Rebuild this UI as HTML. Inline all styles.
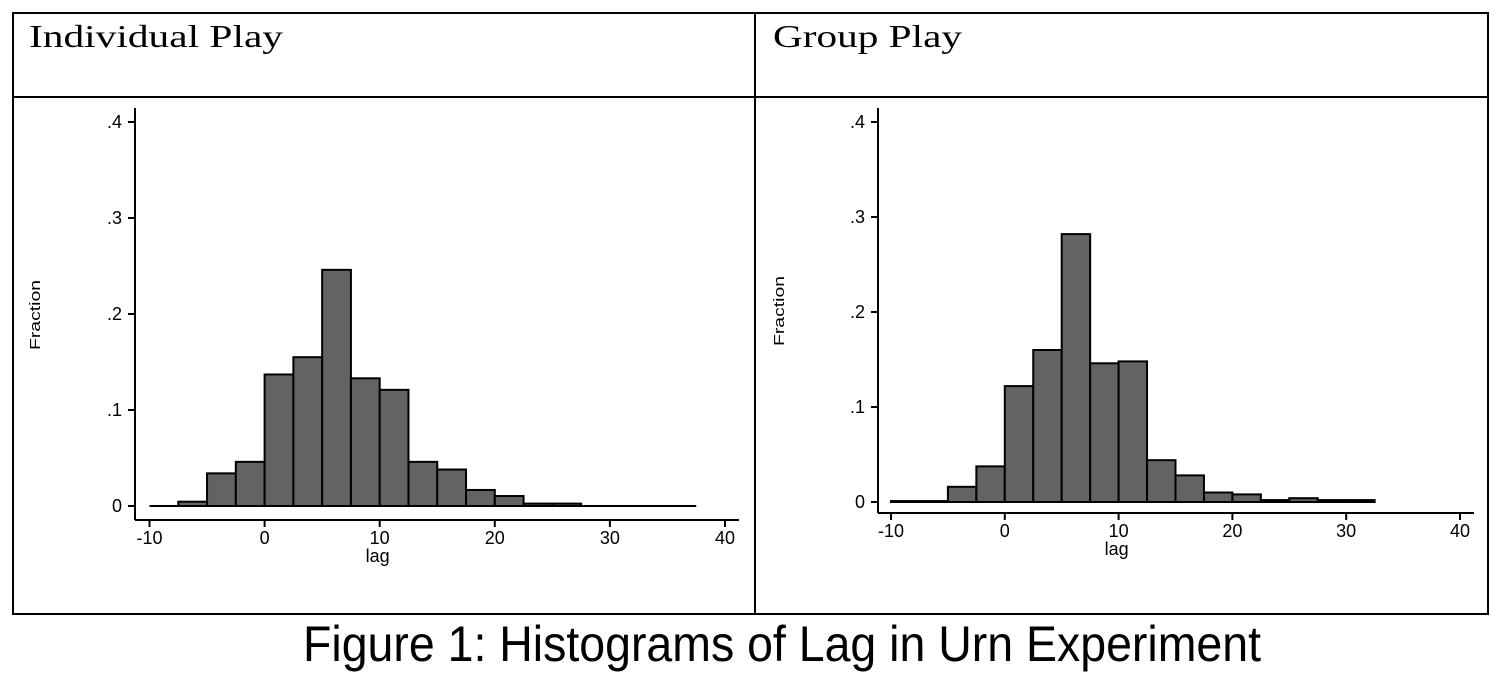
<!DOCTYPE html>
<html><head><meta charset="utf-8"><style>
html,body{margin:0;padding:0;background:#fff;width:1502px;height:677px;overflow:hidden}
svg{display:block}
</style></head><body>
<svg id="fig" width="1502" height="677">
<g stroke="#000" fill="none" stroke-width="2">
<rect x="13" y="13" width="1475" height="601"/>
<line x1="13" y1="97" x2="1488" y2="97"/>
<line x1="755" y1="13" x2="755" y2="614"/>
</g>
<text x="29" y="47" font-family="Liberation Serif,serif" font-size="32" textLength="254" lengthAdjust="spacingAndGlyphs">Individual Play</text>
<text x="773" y="47" font-family="Liberation Serif,serif" font-size="32" textLength="189" lengthAdjust="spacingAndGlyphs">Group Play</text>
<text x="782" y="661" text-anchor="middle" font-family="Liberation Sans,sans-serif" font-size="50" textLength="958" lengthAdjust="spacingAndGlyphs">Figure 1: Histograms of Lag in Urn Experiment</text>
</svg>
<script>
const binStarts = [-10,-7.5,-5,-2.5,0,2.5,5,7.5,10,12.5,15,17.5,20,22.5,25,27.5,30,32.5,35];
const binWidth = 2.5;
const individualValues = [0,0.0045,0.034,0.046,0.137,0.155,0.246,0.133,0.121,0.046,0.038,0.0167,0.0104,0.0025,0.0025,0,0,0,0];
const groupValues = [0.001,0.001,0.016,0.0375,0.122,0.160,0.282,0.146,0.148,0.044,0.028,0.010,0.008,0.002,0.004,0.002,0.002];
const xTicks = [-10,0,10,20,30,40];
const yTicks = [0,0.1,0.2,0.3,0.4];
const yTickLabels = ["0",".1",".2",".3",".4"];
const NS="http://www.w3.org/2000/svg";
const svg=document.getElementById('fig');
const TKSTYLE='font-family:"Liberation Sans",sans-serif;font-size:18px;fill:#000';
function mk(tag,attrs,parent){const e=document.createElementNS(NS,tag);for(const k in attrs)e.setAttribute(k,attrs[k]);(parent||svg).appendChild(e);return e;}
function panel(cfg,values,prefix){
  const g=mk('g',{});
  
  
  const xs=v=>cfg.x0+(v+10)*(cfg.x40-cfg.x0)/50;
  const ys=v=>cfg.y0-v*(cfg.y0-cfg.y4)/0.4;
  const bl=mk('line',{x1:xs(-10),x2:xs(cfg.baseEnd),y1:ys(0),y2:ys(0),stroke:'#000','stroke-width':2},g);
  
  
  values.forEach((v,i)=>{
    if(v<=0) return;
    const x1=xs(binStarts[i]),x2=xs(binStarts[i]+binWidth);
    const r=mk('rect',{x:x1,y:ys(v),width:x2-x1,height:ys(0)-ys(v),fill:'#636363',stroke:'#000','stroke-width':2},g);
    
    
  });
  const ya=mk('line',{x1:cfg.ax,x2:cfg.ax,y1:cfg.yTop,y2:cfg.xa,stroke:'#000','stroke-width':2},g);
  
  
  yTicks.forEach((t,i)=>{
    mk('line',{x1:cfg.ax-7,x2:cfg.ax,y1:ys(t),y2:ys(t),stroke:'#000','stroke-width':2},g);
    const tx=mk('text',{x:cfg.ax-13,y:ys(t)+6,'text-anchor':'end',style:TKSTYLE},g);
    tx.textContent=yTickLabels[i];
    
    
  });
  const xa=mk('line',{x1:cfg.ax,x2:cfg.xEnd,y1:cfg.xa,y2:cfg.xa,stroke:'#000','stroke-width':2},g);
  
  
  xTicks.forEach(t=>{
    mk('line',{x1:xs(t),x2:xs(t),y1:cfg.xa,y2:cfg.xa+7,stroke:'#000','stroke-width':2},g);
    const tx=mk('text',{x:xs(t),y:cfg.xa+24,'text-anchor':'middle',style:TKSTYLE},g);
    tx.textContent=String(t);
    
    
  });
  const xl=mk('text',{x:xs(10)-2,y:cfg.xa+42,'text-anchor':'middle',style:TKSTYLE},g);
  xl.textContent='lag';
  
  
  const yl=mk('text',{x:0,y:0,'text-anchor':'middle',textLength:'70',lengthAdjust:'spacingAndGlyphs',transform:`translate(${cfg.ylx},${cfg.yly}) rotate(-90)`},g);
  yl.setAttribute('style','font-family:"Liberation Sans",sans-serif;font-size:15px;fill:#000');
  yl.textContent='Fraction';
  
  
}
panel({x0:149.5,x40:725,y0:506,y4:122,ax:135,yTop:108,xa:520,xEnd:739,baseEnd:37.5,ylx:40,yly:315},individualValues,'individual');
panel({x0:891,x40:1460,y0:502,y4:122,ax:878,yTop:108,xa:513,xEnd:1474,baseEnd:32.5,ylx:784,yly:311},groupValues,'group');
</script>
</body></html>
